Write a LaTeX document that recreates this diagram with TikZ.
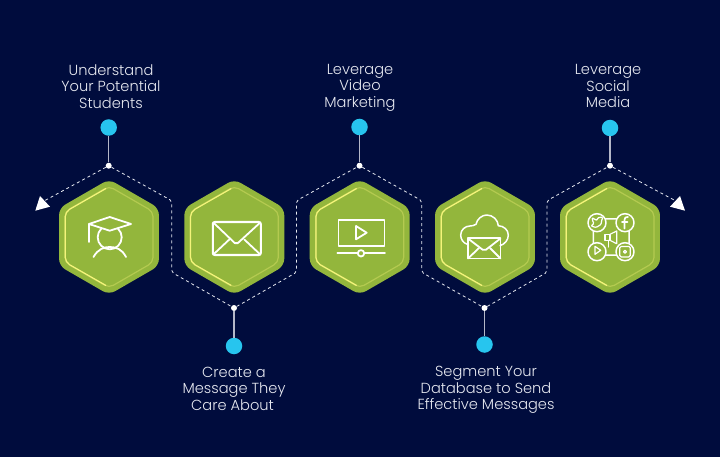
\documentclass[tikz,border=0pt]{standalone}
\usepackage{xcolor}
\usepackage{fontspec}
\setmainfont{Poppins Light}
\usetikzlibrary{arrows.meta, positioning, calc, shapes.geometric}

\definecolor{fondo}{HTML}{000C3D}
\definecolor{hexgreen}{HTML}{93B63C}
\definecolor{hexlit}{HTML}{F4F47A}
\definecolor{hexdim}{HTML}{B4CA50}
\definecolor{dotblue}{HTML}{27C5EE}
\definecolor{stemgray}{HTML}{B4B8C8}
\definecolor{labelgray}{HTML}{E6E8F0}

\begin{document}
\begin{tikzpicture}[
    x=1pt, y=-1pt,
    hexa/.style={regular polygon, regular polygon sides=6, shape border rotate=30,
                 fill=hexgreen, minimum size=115.4pt, inner sep=0pt, rounded corners=7pt},
    hexb/.style={regular polygon, regular polygon sides=6, shape border rotate=30,
                 draw=hexdim, line width=1.2pt, minimum size=101.6pt, inner sep=0pt,
                 rounded corners=5pt},
    hexedge/.style={draw=hexlit, line width=1.2pt, rounded corners=5pt},
    icon/.style={draw=white, line width=1.8pt, line join=round, line cap=round},
    small/.style={draw=white, line width=1.2pt, line join=round, line cap=round},
    bullet/.style={circle, fill=dotblue, minimum size=16.5pt, inner sep=0pt},
    joint/.style={circle, fill=white, minimum size=6pt, inner sep=0pt},
    stem/.style={draw=stemgray, line width=1.2pt},
    route/.style={draw=labelgray, line width=.8pt, dash pattern=on 3pt off 3pt},
    lbl/.style={text=labelgray, align=center, inner sep=0pt,
                font=\fontsize{14.6}{16.5}\selectfont,
                execute at begin node={\lineskiplimit=-8pt\relax}}
  ]

  \fill[fondo] (0,0) rectangle (720,457);
  \useasboundingbox (0,0) rectangle (720,457);

  % --- Hexagons ---
  \foreach \n/\x in {h1/109, h2/234.3, h3/359.7, h4/485, h5/610}{
    \node[hexa] (\n) at (\x,237) {};
    \node[hexb] (\n b) at (\x,237) {};
    \draw[hexedge] ($(\n)+(-3,-48.5)$) -- ($(\n)+(-43.8,-25.2)$)
                   -- ($(\n)+(-43.8,25.2)$) -- ($(\n)+(-3,48.5)$);
  }

  % --- Route ---
  \node[joint] (j1) at (108.7,165.7) {};
  \node[joint] (j2) at (234,308) {};
  \node[joint] (j3) at (359.5,165.7) {};
  \node[joint] (j4) at (484.5,308) {};
  \node[joint] (j5) at (610,165.7) {};
  \coordinate (c1) at (171.7,200.7);
  \coordinate (c2) at (171.7,272.3);
  \coordinate (c3) at (296.5,272.3);
  \coordinate (c4) at (296.5,200.7);
  \coordinate (c5) at (421.7,200.7);
  \coordinate (c6) at (421.7,272.3);
  \coordinate (c7) at (547,272.3);
  \coordinate (c8) at (547,200.7);
  \coordinate (endl) at (45,200.5);
  \coordinate (endr) at (675,200.5);
  \draw[route, rounded corners=2pt] (j1) -- (c1) -- (c2) -- (j2) -- (c3) -- (c4) -- (j3)
        -- (c5) -- (c6) -- (j4) -- (c7) -- (c8) -- (j5) -- (endr);
  \draw[route] (j1) -- (endl);
  \fill[white] (40,196) -- (50,206.7) -- (35.3,210.7) -- cycle;
  \fill[white] (680,196) -- (670,206.7) -- (685,210.7) -- cycle;

  % --- Bullets ---
  \node[bullet] (b1) at (108.7,127.5) {};
  \node[bullet] (b2) at (234,346) {};
  \node[bullet] (b3) at (359.5,127) {};
  \node[bullet] (b4) at (484.5,344.5) {};
  \node[bullet] (b5) at (610,128) {};
  \foreach \a/\b in {b1/j1, b2/j2, b3/j3, b4/j4, b5/j5}
    \draw[stem] (\a) -- (\b);

  % --- Labels ---
  \node[lbl] (t1) at (111,86.2) {Understand\\Your Potential\\Students};
  \node[lbl] (t2) at (234,388.5) {Create a\\Message They\\\hspace*{-3pt}Care About};
  \node[lbl] (t3) at (360,87.5) {Leverage\\Video\\Marketing};
  \node[lbl] (t4) at (486,390) {Segment Your\\Database to Send\\Effective Messages};
  \node[lbl] (t5) at (608,86.2) {Leverage\\Social\\Media};

  % --- Cap and student ---
  \begin{scope}[shift={(h1)}]
    \draw[icon] (0.7,0.3) circle[radius=12];
    \draw[icon, fill=hexgreen] (-20,-13) -- (0.7,-20) -- (22,-13) -- (0.7,-6.3) -- cycle;
    \draw[icon] (-20,-13) -- (-20,5);
    \draw[icon] (-15.5,20) .. controls (-11,12) and (-5,10) .. (0.7,10)
                .. controls (7,10) and (13,12) .. (17,20);
  \end{scope}

  % --- Envelope ---
  \begin{scope}[shift={(h2)}]
    \draw[icon, line width=2.1pt, rounded corners=2pt] (-21.5,-15) rectangle (26.5,18);
    \draw[icon, rounded corners=2pt] (-21,-14.5) -- (2,7.5) -- (26,-14.5);
    \draw[icon] (-21,17.5) -- (-5,2.5);
    \draw[icon] (26,17.5) -- (10,2.5);
  \end{scope}

  % --- Video player ---
  \begin{scope}[shift={(h3)}]
    \draw[icon] (-21.3,-17) rectangle (24.7,9);
    \draw[icon] (-3.7,-11) -- (7,-4.3) -- (-3.7,2.3) -- cycle;
    \draw[icon] (-22.3,16.3) -- (25.3,16.3);
    \draw[icon, fill=hexgreen] (1.3,16.3) circle[radius=3.2];
  \end{scope}

  % --- Cloud mail ---
  \begin{scope}[shift={(h4)}]
    \draw[icon, line width=1.5pt] (-17.7,7.3) .. controls (-22,6) and (-24.3,2) .. (-24.3,-2)
       .. controls (-24.3,-7) and (-20,-11) .. (-15,-11)
       .. controls (-13,-11) and (-11,-11.5) .. (-9,-12.7)
       .. controls (-8,-18) and (-3,-22) .. (1.7,-22)
       .. controls (8,-22) and (13,-17) .. (13.3,-11.3)
       .. controls (19,-11) and (23.3,-7) .. (23.3,-2)
       .. controls (23.3,3) and (20,7) .. (15,8.7);
    \draw[icon] (-17,1) rectangle (15.5,21.5);
    \draw[icon, rounded corners=2pt] (-17,1.5) -- (-0.7,14) -- (15.5,1.5);
    \draw[icon] (-17,21.5) -- (-6,11);
    \draw[icon] (15.5,21.5) -- (5,11);
  \end{scope}

  % --- Social media ---
  \begin{scope}[shift={(h5)}, icon/.append style={line width=1.5pt}]
    \draw[icon, rounded corners=4pt] (-16.7,-18) rectangle (19,18);
    \foreach \n/\cx/\cy in {s1/-13/-14.3, s2/15/-14.3, s3/-13/14.7, s4/15/14.7}
      \draw[icon, fill=hexgreen] (\cx,\cy) circle[radius=9];
    % bird
    \draw[small, rounded corners=1pt] (-19,-11) -- (-14,-9.5) -- (-9,-12.5) -- (-8,-18)
       -- (-7,-19.5) -- (-10,-19.8) -- (-12.5,-19) -- (-13,-16.5) -- (-18,-19.3)
       -- (-17,-15) -- (-16,-13.5) -- cycle;
    % f
    \draw[small, line width=1.7pt] (18,-20) .. controls (15.5,-20.5) and (14.5,-19) .. (14.5,-17)
       -- (14.5,-8.5);
    \draw[small, line width=1.7pt] (12,-15) -- (17.5,-15);
    % play
    \draw[small] (-15,9.3) -- (-9.3,13.3) -- (-15,17.3) -- cycle;
    % camera
    \draw[small, rounded corners=1.5pt] (9.7,9.4) rectangle (20.3,20);
    \draw[small] (15,14.7) circle[radius=1.5];
    % megaphone
    \draw[small] (-5,-2.7) rectangle (0,3.3);
    \draw[small] (0,-2.7) -- (6.7,-6) -- (6.7,6.7) -- (0,3.3);
    \draw[small] (-1.7,3.3) -- (-1.7,10);
  \end{scope}

\end{tikzpicture}
\end{document}
